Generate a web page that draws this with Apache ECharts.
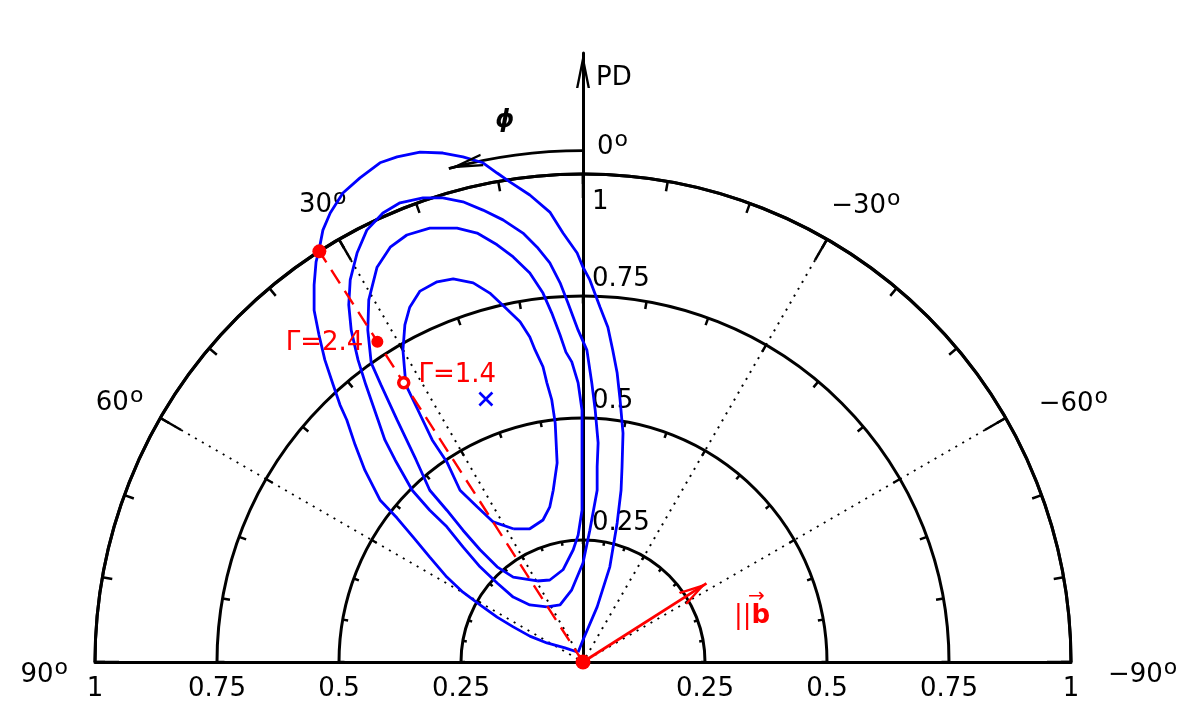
<!DOCTYPE html>
<html>
<head>
<meta charset="utf-8">
<title>PD - polar angle contours</title>
<script src="https://cdn.jsdelivr.net/npm/echarts@6/dist/echarts.min.js"></script>
<style>
    html, body { margin: 0; padding: 0; background: #fff; }
    #chart { width: 1184px; height: 708px; }
</style>
</head>
<body>
<div id="chart"></div>
<script>
// ===== 数据 =====
// PD ticks and angle ticks (deg, positive = counter-clockwise from the PD axis)
var pdTicks = [0.25, 0.5, 0.75, 1];
var angleTicks = [-90, -60, -30, 0, 30, 60, 90];

// confidence contours, given in the (PD·sinφ, PD·cosφ) plane (x to the right = negative φ)
var contour1 = [
    [-0.010, 0.020], [-0.037, 0.029], [-0.074, 0.039], [-0.109, 0.053], [-0.143, 0.072],
    [-0.176, 0.092], [-0.211, 0.117], [-0.246, 0.143], [-0.279, 0.174], [-0.314, 0.215],
    [-0.348, 0.256], [-0.381, 0.295], [-0.416, 0.332], [-0.447, 0.393], [-0.467, 0.445],
    [-0.484, 0.496], [-0.498, 0.527], [-0.512, 0.568], [-0.529, 0.619], [-0.541, 0.670],
    [-0.551, 0.721], [-0.551, 0.773], [-0.547, 0.820], [-0.541, 0.844], [-0.533, 0.885],
    [-0.518, 0.920], [-0.492, 0.961], [-0.457, 0.992], [-0.416, 1.023], [-0.381, 1.035],
    [-0.334, 1.045], [-0.287, 1.043], [-0.246, 1.035], [-0.205, 1.023], [-0.176, 1.002],
    [-0.150, 0.984], [-0.109, 0.957], [-0.068, 0.922], [-0.041, 0.879], [-0.012, 0.838],
    [0.000, 0.809], [0.014, 0.783], [0.035, 0.727], [0.051, 0.686], [0.061, 0.639],
    [0.070, 0.592], [0.076, 0.537], [0.082, 0.469], [0.080, 0.400], [0.078, 0.352],
    [0.070, 0.285], [0.055, 0.195], [0.029, 0.113], [0.000, 0.045], [-0.010, 0.020]
];
var contour2 = [
    [-0.074, 0.113], [-0.109, 0.117], [-0.143, 0.133], [-0.176, 0.162], [-0.211, 0.195],
    [-0.246, 0.236], [-0.279, 0.277], [-0.314, 0.311], [-0.350, 0.352], [-0.385, 0.414],
    [-0.406, 0.455], [-0.420, 0.496], [-0.445, 0.568], [-0.461, 0.619], [-0.475, 0.680],
    [-0.480, 0.732], [-0.477, 0.783], [-0.463, 0.838], [-0.443, 0.885], [-0.410, 0.920],
    [-0.375, 0.941], [-0.328, 0.951], [-0.287, 0.951], [-0.246, 0.943], [-0.205, 0.926],
    [-0.164, 0.906], [-0.123, 0.879], [-0.094, 0.850], [-0.068, 0.818], [-0.047, 0.777],
    [-0.031, 0.736], [-0.010, 0.680], [0.008, 0.639], [0.018, 0.572], [0.025, 0.516],
    [0.031, 0.449], [0.029, 0.400], [0.029, 0.352], [0.014, 0.270], [0.000, 0.203],
    [-0.023, 0.148], [-0.047, 0.117], [-0.074, 0.113]
];
var contour3 = [
    [-0.094, 0.166], [-0.143, 0.174], [-0.176, 0.195], [-0.211, 0.230], [-0.246, 0.270],
    [-0.279, 0.311], [-0.314, 0.352], [-0.342, 0.414], [-0.381, 0.496], [-0.414, 0.568],
    [-0.434, 0.613], [-0.441, 0.680], [-0.439, 0.742], [-0.422, 0.809], [-0.395, 0.850],
    [-0.361, 0.875], [-0.314, 0.889], [-0.258, 0.889], [-0.217, 0.879], [-0.176, 0.855],
    [-0.143, 0.830], [-0.109, 0.797], [-0.082, 0.756], [-0.064, 0.715], [-0.047, 0.670],
    [-0.035, 0.635], [-0.023, 0.615], [-0.010, 0.572], [-0.002, 0.516], [-0.002, 0.400],
    [-0.002, 0.311], [-0.010, 0.260], [-0.020, 0.230], [-0.041, 0.189], [-0.068, 0.168],
    [-0.094, 0.166]
];
var contour4 = [
    [-0.143, 0.273], [-0.184, 0.287], [-0.217, 0.318], [-0.252, 0.352], [-0.279, 0.410],
    [-0.309, 0.455], [-0.340, 0.520], [-0.363, 0.568], [-0.369, 0.639], [-0.365, 0.691],
    [-0.355, 0.727], [-0.334, 0.760], [-0.299, 0.779], [-0.266, 0.785], [-0.225, 0.777],
    [-0.191, 0.756], [-0.160, 0.727], [-0.129, 0.697], [-0.109, 0.666], [-0.098, 0.639],
    [-0.082, 0.605], [-0.074, 0.572], [-0.064, 0.537], [-0.057, 0.490], [-0.053, 0.408],
    [-0.061, 0.352], [-0.068, 0.318], [-0.082, 0.291], [-0.109, 0.273], [-0.143, 0.273]
];
var contourPeak = [-0.199, 0.539];

// field direction, the line perpendicular to it, and the two Γ solutions on that line
var bAngle = -57.5;
var bLength = 0.30;
var perpAngle = 32.7;
var gammaValues = [2.4, 1.4];
var gammaPD = [0.78, 0.68];

// φ arrow above the plot
var phiArcRadius = 1.048;
var phiArcEnd = 15.2;

// ===== 版式 =====
var CX = 583, CY = 662, R = 488;      // centre and px per unit PD
var yTop = 1.248;                      // PD axis arrow tip
var FONT = 'DejaVu Sans';
var RED = '#ff0000', BLUE = '#0000ff';
var LW = 3;

function toXY(pd, phi) {
    var a = phi * Math.PI / 180;
    return [-pd * Math.sin(a), pd * Math.cos(a)];
}

// open arrow head pointing up, tip in the middle of its box
function chevron(half, len, t) {
    return 'path://M' + half + ',' + (-len) + 'L' + (half + 0.01) + ',' + (-len) + 'Z' +
        'M' + half + ',0L' + (2 * half) + ',' + len + 'L' + (2 * half - t) + ',' + len +
        'L' + half + ',' + (t * len / half) + 'L' + t + ',' + len + 'L0,' + len + 'Z';
}

// angle labels: [top pad, right pad, bottom pad, left pad]
var angleLabelPad = {
    m90: [26, 0, 0, 52], m60: [0, 0, 3.5, 46], m30: [0, 0, 28.4, 11.7],
    z: [0, 0, 24, 59],
    p30: [0, 0, 29, 0], p60: [0, 30, 4.5, 0], p90: [26, 42, 0, 0]
};
function angleKey(v) { return v === 0 ? 'z' : (v < 0 ? 'm' : 'p') + Math.abs(v); }
var angleRich = {};
angleTicks.forEach(function (v) {
    var k = angleKey(v), p = angleLabelPad[k];
    angleRich['d' + k] = { fontFamily: FONT, fontSize: 26, color: '#000', verticalAlign: 'middle',
        padding: [p[0], 0, p[2], p[3]] };
    angleRich['o' + k] = { fontFamily: FONT, fontSize: 22, color: '#000', verticalAlign: 'middle',
        padding: [p[0], p[1], p[2] + 14, 1] };
});

// ===== 极坐标：圆环 + 刻度 =====
var ringSpec = [
    { r: 1, interval: 30, tick: 24, labels: true, spokes: true },
    { r: 1, interval: 10, tick: 10 },
    { r: 0.75, interval: 10, tick: 7.5 },
    { r: 0.5, interval: 10, tick: 5.5 },
    { r: 0.25, interval: 10, tick: 4 }
];
var polar = [], angleAxis = [], radiusAxis = [];
ringSpec.forEach(function (s, i) {
    polar.push({ center: [CX, CY], radius: s.r * R });
    radiusAxis.push({ polarIndex: i, type: 'value', min: 0, max: s.r, show: false });
    angleAxis.push({
        polarIndex: i, type: 'value', min: -90, max: 90, interval: s.interval,
        startAngle: 0, endAngle: 180, clockwise: false,
        axisLine: { show: true, lineStyle: { color: '#000', width: LW } },
        axisTick: { show: true, inside: true, length: s.tick, lineStyle: { color: '#000', width: 2.5 } },
        axisLabel: s.labels ? {
            show: true, margin: -15, interval: 0,
            formatter: function (v) {
                var k = angleKey(v);
                return '{d' + k + '|' + (v < 0 ? '\u2212' : '') + Math.abs(v) + '}{o' + k + '|o}';
            },
            rich: angleRich
        } : { show: false },
        splitLine: s.spokes ? { show: true, lineStyle: { color: '#000', width: 2, type: [2, 6] } } : { show: false },
        splitArea: { show: false }
    });
});
// φ arc
polar.push({ center: [CX, CY], radius: phiArcRadius * R });
radiusAxis.push({ polarIndex: ringSpec.length, type: 'value', min: 0, max: 1, show: false });
angleAxis.push({
    polarIndex: ringSpec.length, type: 'value', min: 0, max: phiArcEnd, interval: phiArcEnd,
    startAngle: 90, endAngle: 90 + phiArcEnd, clockwise: false,
    axisLine: { show: true, lineStyle: { color: '#000', width: 2.6 } },
    axisTick: { show: false }, axisLabel: { show: false },
    splitLine: { show: false }, splitArea: { show: false }
});

// ===== 系列 =====
var perpEnd = toXY(1, perpAngle);
var bTip = toXY(bLength, bAngle);
var contours = [contour1, contour2, contour3, contour4];

var series = contours.map(function (c, i) {
    return {
        name: 'contour' + (i + 1), type: 'line', data: c, z: 3,
        showSymbol: false, symbol: 'none', smooth: false, silent: true,
        lineStyle: { color: BLUE, width: 2.8, opacity: 1 }
    };
});

series.push({
    type: 'scatter', data: [contourPeak], z: 4, silent: true,
    symbol: 'path://M0,0L10,10M10,0L0,10', symbolSize: 13,
    itemStyle: { color: 'rgba(0,0,0,0)', borderColor: BLUE, borderWidth: 2.6, opacity: 1 }
});

series.push({
    type: 'line', data: [[0, 0], perpEnd], z: 5, showSymbol: false, symbol: 'none', silent: true,
    lineStyle: { color: RED, width: 2.4, type: [16, 9], opacity: 1 }
});

// field arrow
series.push({
    type: 'line', data: [], z: 6, silent: true,
    markLine: {
        silent: true, animation: false,
        symbol: ['none', chevron(7.5, 28, 2.4)], symbolSize: [15, 56],
        label: { show: false },
        lineStyle: { color: RED, width: 2.8, type: 'solid', opacity: 1 },
        data: [[{ coord: [0, 0] }, { coord: bTip }]]
    }
});

// φ arrow head
series.push({
    type: 'line', data: [], z: 6, silent: true,
    markLine: {
        silent: true, animation: false,
        symbol: ['none', chevron(6.5, 34, 2.4)], symbolSize: [13, 68],
        label: { show: false },
        lineStyle: { color: '#000', width: 2.6, type: 'solid', opacity: 1 },
        data: [[{ coord: toXY(phiArcRadius, phiArcEnd - 1.5) }, { coord: toXY(phiArcRadius, phiArcEnd) }]]
    }
});

var gammaStyle = [
    { size: 12, fill: RED, border: 0, label: { position: 'left', distance: 8, offset: [0, 2] } },
    { size: 10, fill: '#fff', border: 3.5, label: { position: 'right', distance: 8, offset: [0, -8] } }
];
var dotData = [
    { value: perpEnd, symbolSize: 14, itemStyle: { color: RED } },
    { value: [0, 0], symbolSize: 15, itemStyle: { color: RED } }
];
gammaValues.forEach(function (g, i) {
    var st = gammaStyle[i];
    dotData.push({
        value: toXY(gammaPD[i], perpAngle), symbolSize: st.size,
        itemStyle: { color: st.fill, borderColor: RED, borderWidth: st.border },
        label: {
            show: true, formatter: '\u0393=' + g.toFixed(1), position: st.label.position,
            distance: st.label.distance, offset: st.label.offset,
            fontFamily: FONT, fontSize: 26, color: RED, textBorderWidth: 0
        }
    });
});
series.push({ type: 'scatter', data: dotData, z: 7, silent: true, itemStyle: { opacity: 1 } });

// text attached to the arrows
series.push({
    type: 'scatter', z: 7, silent: true, symbolSize: 1,
    itemStyle: { color: 'rgba(0,0,0,0)', opacity: 1 },
    data: [
        {
            value: bTip,
            label: {
                show: true, position: 'right', distance: 0, offset: [27, 26], textBorderWidth: 0,
                formatter: '{arr|\u2192}\n{bar|||}{bb|b}',
                rich: {
                    arr: { fontFamily: FONT, fontSize: 20, color: RED, padding: [0, 0, 0, 14], lineHeight: 14 },
                    bar: { fontFamily: FONT, fontSize: 26, color: RED },
                    bb: { fontFamily: FONT, fontSize: 26, fontWeight: 'bold', color: RED }
                }
            }
        },
        {
            value: toXY(phiArcRadius, 8),
            label: {
                show: true, position: 'inside', offset: [-7, -35], formatter: '\u03d5',
                fontFamily: FONT, fontSize: 24, fontStyle: 'italic', fontWeight: 'bold',
                color: '#000', textBorderWidth: 0
            }
        }
    ]
});

// ===== 图表 =====
var chart = echarts.init(document.getElementById('chart'), null, { renderer: 'canvas' });
chart.setOption({
    animation: false,
    backgroundColor: '#fff',
    textStyle: { fontFamily: FONT },
    polar: polar,
    angleAxis: angleAxis,
    radiusAxis: radiusAxis,
    grid: [
        // data plane
        { left: CX - R, top: CY - yTop * R, width: 2 * R, height: yTop * R, outerBoundsMode: 'none' },
        // left half only: its right edge carries the PD axis
        { left: CX - R, top: CY - yTop * R, width: R, height: yTop * R, outerBoundsMode: 'none' }
    ],
    xAxis: [
        {
            gridIndex: 0, type: 'value', min: -1, max: 1, interval: 0.25,
            axisLine: { show: true, onZero: false, lineStyle: { color: '#000', width: LW } },
            axisTick: { show: false }, splitLine: { show: false },
            axisLabel: {
                margin: 14, color: '#000', fontFamily: FONT, fontSize: 26,
                formatter: function (v) { return v === 0 ? '' : String(Math.abs(v)); }
            }
        },
        { gridIndex: 1, type: 'value', min: -1, max: 0, show: false }
    ],
    yAxis: [
        { gridIndex: 0, type: 'value', min: 0, max: yTop, show: false },
        {
            gridIndex: 1, type: 'value', min: 0, max: yTop, interval: 0.25, position: 'right',
            name: 'PD', nameLocation: 'end', nameGap: -25, nameMoveOverlap: false,
            nameTextStyle: { fontFamily: FONT, fontSize: 26, color: '#000', align: 'left',
                verticalAlign: 'middle', padding: [0, 0, 0, 13] },
            axisLine: {
                show: true, onZero: false,
                symbol: ['none', chevron(7, 35, 2.4)], symbolSize: [14, 70],
                lineStyle: { color: '#000', width: LW }
            },
            axisTick: { show: false }, splitLine: { show: false },
            axisLabel: {
                margin: 9, color: '#000', fontFamily: FONT, fontSize: 26,
                formatter: function (v) {
                    if (pdTicks.indexOf(v) < 0) return '';
                    return v === 1 ? '{dn|1}' : '{up|' + v + '}';
                },
                rich: {
                    up: { fontFamily: FONT, fontSize: 26, color: '#000', padding: [0, 0, 32.6, 0] },
                    dn: { fontFamily: FONT, fontSize: 26, color: '#000', padding: [56, 0, 0, 0] }
                }
            }
        }
    ],
    series: series
});
window.addEventListener('resize', function () { chart.resize(); });
</script>
</body>
</html>
